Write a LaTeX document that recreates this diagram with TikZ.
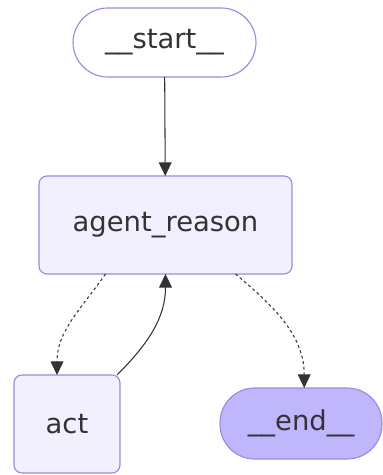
\documentclass[tikz,border=0pt]{standalone}
\usepackage{fontspec}
\setmainfont{DejaVu Sans}
\usetikzlibrary{positioning,arrows.meta,calc}
\definecolor{nodeline}{HTML}{9370DB}
\definecolor{nodefill}{HTML}{F2F0FF}
\definecolor{lastfill}{HTML}{BFB6FC}
\definecolor{edgecol}{HTML}{333333}
\tikzset{
  base/.style={draw=nodeline!85, line width=0.8pt, text=edgecol, font=\fontsize{19.5}{22}\selectfont, inner sep=0, outer sep=0},
  stepbox/.style={base, fill=nodefill, rounded corners=0.2cm},
  terminal/.style={base, rounded corners=0.87cm},
  edge/.style={draw=edgecol, line width=0.75pt, -{Triangle[length=0.34cm,width=0.32cm]}},
  cond/.style={edge, dash pattern=on 2pt off 2pt},
}
\newcommand{\drawbox}{\node[stepbox]}
\newcommand{\drawterm}{\node[terminal]}

\begin{document}
\begin{tikzpicture}
	\useasboundingbox (0,0) rectangle (9.55,-11.875);
	
	\drawterm[fill=white, minimum width=4.575cm, minimum height=1.725cm] (start) at (4.1125,-1.0625) {\_\_start\_\_};
	\drawbox[minimum width=6.325cm, minimum height=2.45cm] (agent) at (4.1375,-5.625) {agent\_reason};
	\drawbox[minimum width=2.65cm, minimum height=2.45cm] (act) at (1.675,-10.6) {act};
	\drawterm[fill=lastfill, minimum width=4.05cm, minimum height=1.775cm] (end) at (7.525,-10.5875) {\_\_end\_\_};
	
	\draw[edge] (start) to (agent);
	\draw[cond] ([xshift=-1.5cm]agent.south) to[out=-125, in=90] ([xshift=-0.25cm]act.north);
	\draw[edge] ([xshift=1.25cm]act.north) to[out=45, in=-90] (agent.south);
	\draw[cond] ([xshift=1.75cm]agent.south) to[out=-40, in=90] ([xshift=0.08cm]end.north);
	
\end{tikzpicture}
\end{document}
